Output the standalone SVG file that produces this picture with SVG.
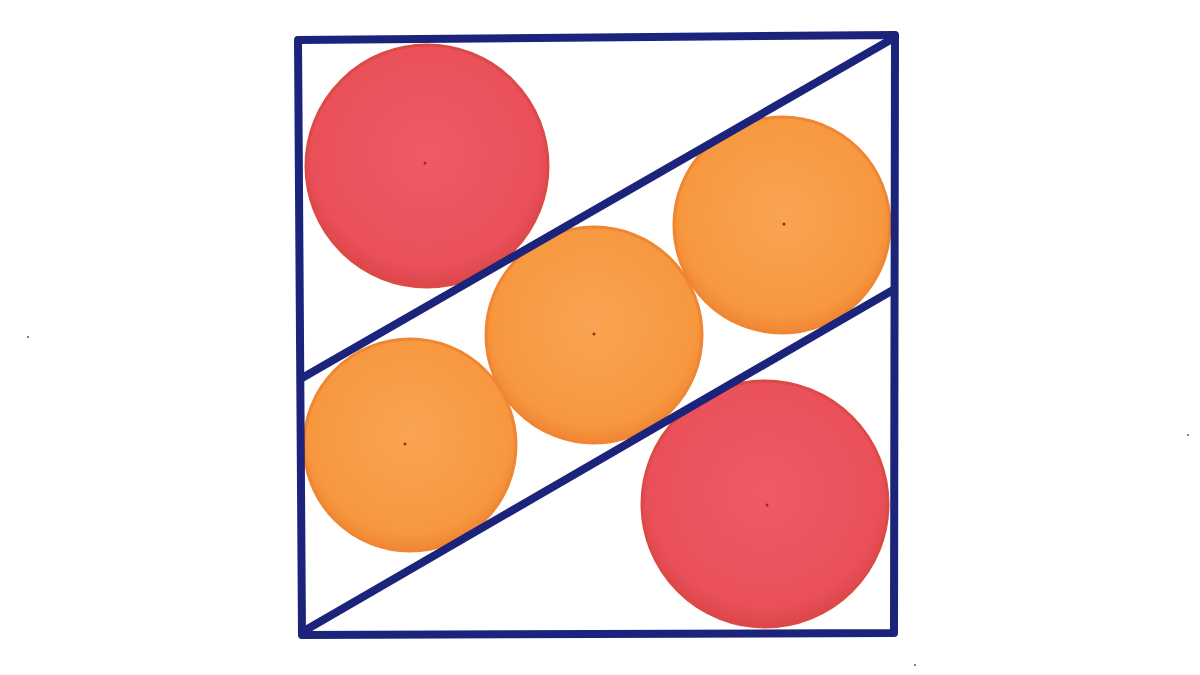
<svg xmlns="http://www.w3.org/2000/svg" width="1200" height="675" viewBox="0 0 1200 675">
<defs>
<radialGradient id="gr" cx="50%" cy="45%" r="55%">
<stop offset="0" stop-color="#ef5a66"/>
<stop offset="0.85" stop-color="#e9505a"/>
<stop offset="1" stop-color="#dc4648"/>
</radialGradient>
<radialGradient id="go" cx="50%" cy="45%" r="55%">
<stop offset="0" stop-color="#f9a452"/>
<stop offset="0.85" stop-color="#f7983f"/>
<stop offset="1" stop-color="#f08534"/>
</radialGradient>
</defs>
<style>
.red{fill:url(#gr);stroke:#dc4a46;stroke-width:3}
.org{fill:url(#go);stroke:#f08632;stroke-width:3}
.ln{stroke:#1b237a;stroke-width:8;fill:none;stroke-linecap:round;stroke-linejoin:round}
.dot{fill:#9a2a20}
</style>
<rect width="1200" height="675" fill="#ffffff"/>
<g id="circles">
<circle class="red" cx="427" cy="166" r="121"/>
<circle class="org" cx="782" cy="225" r="108"/>
<circle class="org" cx="594" cy="335" r="108"/>
<circle class="org" cx="410" cy="445" r="106"/>
<circle class="red" cx="765" cy="504" r="123"/>
<circle class="dot" cx="425" cy="163" r="1.5"/>
<circle class="dot" cx="784" cy="224" r="1.5"/>
<circle class="dot" cx="594" cy="334" r="1.5"/>
<circle class="dot" cx="405" cy="444" r="1.5"/>
<circle class="dot" cx="767" cy="505" r="1.5"/>
</g>
<g id="lines">
<path class="ln" d="M298,40 L895,35 L894,633 L302,635 Z"/>
<path class="ln" d="M302,378 L892,39"/>
<path class="ln" d="M304,631 L893,290"/>
</g>
<g id="specks" fill="#555">
<circle cx="28" cy="337" r="1"/>
<circle cx="1188" cy="435" r="1"/>
<circle cx="915" cy="665" r="1"/>
</g>
</svg>
